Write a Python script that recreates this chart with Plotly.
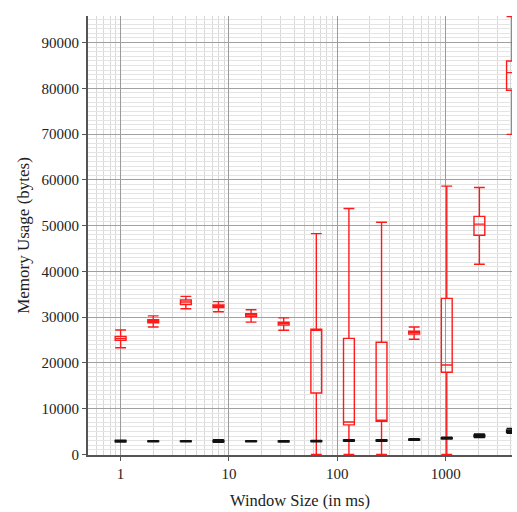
import plotly.graph_objects as go

# Window sizes (ms)
window_sizes = [1, 2, 4, 8, 16, 32, 64, 128, 256, 512, 1024, 2048, 4096]

# Red series: box statistics (bytes)
red_low = [23300, 27850, 31830, 31190, 28910, 27140, 0, 0, 0, 25160, 0, 41570, 69930]
red_q1 = [24940, 28780, 32750, 32110, 30130, 28270, 13430, 6460, 7250, 26290, 17970, 47890, 79590]
red_med = [25370, 29120, 33320, 32410, 30490, 28630, 27250, 7100, 7350, 26650, 19530, 50320, 83430]
red_q3 = [25800, 29420, 33750, 32680, 30770, 28910, 27350, 25370, 24520, 26930, 34110, 52020, 85980]
red_high = [27200, 30270, 34540, 33390, 31620, 29850, 48250, 53730, 50740, 27840, 58630, 58330, 95700]

# Black series: box statistics (bytes)
black_low = [2700, 2750, 2750, 2650, 2750, 2700, 2750, 2900, 2900, 3100, 3350, 3700, 4600]
black_q1 = [2750, 2800, 2800, 2750, 2800, 2750, 2800, 2950, 2950, 3150, 3400, 3850, 4850]
black_med = [2900, 2880, 2880, 2900, 2880, 2850, 2900, 3050, 3050, 3260, 3540, 4050, 5100]
black_q3 = [3050, 2950, 2950, 3050, 2950, 2950, 3000, 3150, 3150, 3350, 3650, 4250, 5350]
black_high = [3100, 3000, 3000, 3200, 3000, 3000, 3050, 3250, 3250, 3450, 3750, 4500, 5700]

x_ticks = [1, 10, 100, 1000]
x_tick_text = ["1", "10", "100", "1000"]
x_minor = [m * 10 ** k for k in range(-1, 4) for m in range(2, 10)]
y_ticks = list(range(0, 90001, 10000))
y_tick_text = [str(v) for v in y_ticks]

FONT = "Liberation Serif"


def box_trace(low, q1, med, q3, high, color):
    return go.Box(
        x=window_sizes,
        lowerfence=low,
        q1=q1,
        median=med,
        q3=q3,
        upperfence=high,
        line=dict(color=color, width=1.4),
        fillcolor="rgba(0,0,0,0)",
        whiskerwidth=1,
        width=0.1,
        boxpoints=False,
        showlegend=False,
    )


fig = go.Figure()
fig.add_trace(box_trace(red_low, red_q1, red_med, red_q3, red_high, "#ff1a1a"))
fig.add_trace(box_trace(black_low, black_q1, black_med, black_q3, black_high, "#111111"))

fig.update_layout(
    width=517,
    height=512,
    margin=dict(l=88, r=5, t=16, b=47),
    paper_bgcolor="white",
    plot_bgcolor="white",
    boxmode="overlay",
    font=dict(family=FONT, size=15, color="#222222"),
)

fig.update_xaxes(
    type="log",
    range=[-0.30103, 3.61236],
    tickvals=x_ticks,
    ticktext=x_tick_text,
    ticks="outside",
    ticklen=4,
    tickcolor="#555555",
    showline=True,
    linecolor="#555555",
    linewidth=2,
    showgrid=True,
    gridcolor="#9a9a9a",
    gridwidth=1,
    zeroline=False,
    minor=dict(tickmode="array", tickvals=x_minor, showgrid=True,
               gridcolor="#d8d8d8", gridwidth=1, ticks=""),
    title=dict(text="Window Size (in ms)", font=dict(family=FONT, size=16.5), standoff=13),
)

fig.update_yaxes(
    range=[-120, 95800],
    tickvals=y_ticks,
    ticktext=y_tick_text,
    ticks="outside",
    ticklen=4,
    tickcolor="#555555",
    showline=True,
    linecolor="#555555",
    linewidth=2,
    showgrid=True,
    gridcolor="#a0a0a0",
    gridwidth=1,
    zeroline=False,
    minor=dict(dtick=1000, showgrid=True, gridcolor="#e4e4e4", gridwidth=1, ticks=""),
    title=dict(text="Memory Usage (bytes)", font=dict(family=FONT, size=17), standoff=8),
)

fig.write_html("out.html")
